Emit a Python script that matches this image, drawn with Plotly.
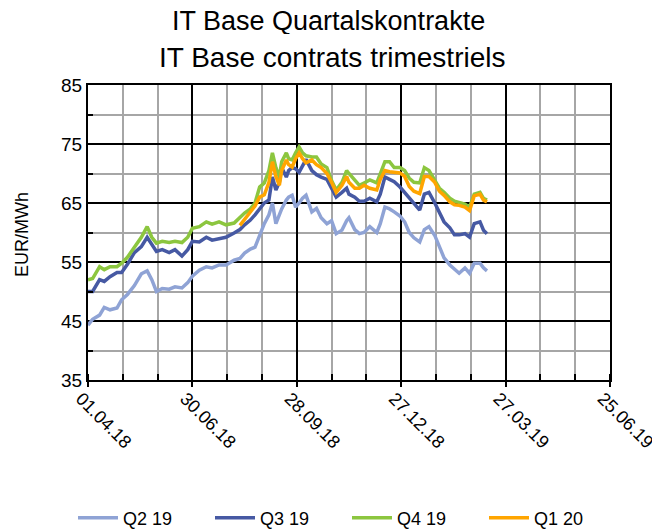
import plotly.graph_objects as go

dates = ["2018-04-01","2018-04-05","2018-04-11","2018-04-15","2018-04-20","2018-04-26","2018-04-30",
         "2018-05-05","2018-05-11","2018-05-17","2018-05-22","2018-05-26","2018-05-30","2018-06-04",
         "2018-06-10","2018-06-15","2018-06-21","2018-06-26","2018-06-30","2018-07-06","2018-07-12",
         "2018-07-17","2018-07-23","2018-07-29","2018-08-05","2018-08-10","2018-08-14","2018-08-19",
         "2018-08-23","2018-08-27","2018-08-31","2018-09-04","2018-09-07","2018-09-10","2018-09-13",
         "2018-09-15","2018-09-19","2018-09-21","2018-09-24","2018-09-27","2018-09-30","2018-10-03",
         "2018-10-06","2018-10-11","2018-10-15","2018-10-19","2018-10-24","2018-10-28","2018-11-01",
         "2018-11-06","2018-11-10","2018-11-12","2018-11-17","2018-11-21","2018-11-25","2018-11-30",
         "2018-12-06","2018-12-09","2018-12-13","2018-12-17","2018-12-21","2018-12-26","2018-12-30",
         "2019-01-03","2019-01-07","2019-01-12","2019-01-16","2019-01-20","2019-01-25","2019-01-29",
         "2019-02-02","2019-02-07","2019-02-11","2019-02-15","2019-02-20","2019-02-24","2019-02-28",
         "2019-03-05","2019-03-08","2019-03-11"]

q2_19 = [44.3,45.3,46.0,47.3,46.9,47.2,48.6,49.5,51.0,53.0,53.5,52.0,50.0,50.5,50.4,50.8,50.6,51.5,52.6,
         53.6,54.2,54.0,54.5,54.5,55.3,55.6,56.5,57.2,57.5,59.5,61.5,63.0,65.0,61.5,63.2,64.0,65.5,66.0,
         66.3,64.3,65.0,65.8,66.3,63.5,64.1,62.5,61.5,62.0,59.8,60.4,62.0,62.5,60.5,59.8,60.0,61.0,60.0,
         61.5,64.3,64.0,63.5,62.8,61.8,60.0,59.1,58.4,60.5,61.0,59.5,57.5,55.7,54.5,53.8,53.1,54.0,53.1,
         54.8,54.8,54.0,53.5]

q3_19 = [50.0,50.0,52.0,51.7,52.5,53.2,53.2,54.6,56.6,57.6,59.2,57.9,56.8,57.1,56.6,57.1,56.0,57.1,58.5,
         58.4,59.2,58.7,59.0,59.2,59.9,60.5,61.3,62.1,63.0,64.0,65.0,65.5,69.4,67.2,68.5,71.0,69.4,70.5,
         71.0,70.8,70.2,71.3,72.4,70.5,69.8,69.4,69.0,67.5,66.0,66.8,67.5,66.5,66.0,65.3,65.3,65.8,65.2,
         66.5,69.4,69.0,68.6,67.7,66.8,65.8,64.8,63.8,66.5,66.8,65.0,63.5,61.8,60.8,59.6,59.6,59.8,59.2,
         61.5,61.8,60.4,59.8]

q4_19 = [52.0,52.2,54.2,53.7,54.2,54.2,54.8,55.8,57.5,59.2,61.0,59.2,58.2,58.5,58.3,58.5,58.3,59.2,60.7,
         61.0,61.8,61.4,61.8,61.3,61.6,62.6,63.3,64.0,65.0,67.7,68.4,70.5,73.5,71.0,69.4,72.0,73.5,72.5,
         72.3,73.5,74.5,73.5,73.0,72.8,72.8,71.6,71.0,68.8,67.2,68.5,70.5,70.0,68.8,68.0,68.4,68.9,68.4,
         70.0,72.0,72.0,71.0,71.0,70.5,69.2,68.5,68.4,71.0,70.5,68.8,67.5,66.8,65.8,65.3,65.1,64.8,64.3,
         66.5,66.8,65.8,65.5]

q1_20_start = 25  # Q1 20 quotes begin on dates[25]
q1_20 = [61.2,62.2,63.6,64.5,66.0,66.4,68.5,72.0,69.5,68.0,70.5,72.3,71.5,71.1,72.5,73.5,72.5,71.8,
         72.3,71.5,71.0,70.0,68.5,66.8,68.0,69.5,68.5,67.5,67.5,68.0,67.5,67.2,69.0,70.5,70.3,70.2,70.1,
         69.5,67.8,67.0,66.6,69.5,69.5,68.5,67.0,66.3,65.2,64.7,64.6,64.3,63.7,66.2,66.5,65.5,65.2]

series = [
    ("Q2 19", dates, q2_19, "#8FA3D5"),
    ("Q3 19", dates, q3_19, "#4659A3"),
    ("Q4 19", dates, q4_19, "#8CC63F"),
    ("Q1 20", dates[q1_20_start:], q1_20, "#FFA500"),
]

FONT = "Liberation Sans, Arial, sans-serif"
OFF = 8  # page body margin of the browser
W, H = 660 - OFF, 530 - OFF
L, T = 88 - OFF, 85 - OFF
R = W - (610 - OFF)
B = H - (380 - OFF)
PW, PH = W - L - R, H - T - B

def px_x(p):  # window pixel -> paper x
    return (p - OFF - L) / PW

def px_y(p):  # window pixel -> paper y
    return 1 + (T - (p - OFF)) / PH

fig = go.Figure()
for name, x, y, c in series:
    fig.add_trace(go.Scatter(x=x, y=y, name=name, mode="lines",
                             line=dict(color=c, width=3.5)))

DAY = 86400000
fig.update_layout(
    width=W, height=H,
    margin=dict(l=L, r=R, t=T, b=B, autoexpand=False),
    paper_bgcolor="white", plot_bgcolor="white",
    font=dict(family=FONT, color="black"),
    showlegend=True,
    legend=dict(orientation="h", x=px_x(73), xanchor="left", y=px_y(518), yanchor="middle",
                font=dict(size=18, family=FONT), entrywidth=82, entrywidthmode="pixels",
                itemwidth=40, tracegroupgap=0),
    annotations=[
        dict(text="IT Base Quartalskontrakte", x=px_x(328), y=px_y(21), xref="paper", yref="paper",
             xanchor="center", yanchor="middle", height=26, valign="middle",
             showarrow=False, font=dict(size=27, family=FONT)),
        dict(text="IT Base contrats trimestriels", x=px_x(332), y=px_y(58), xref="paper", yref="paper",
             xanchor="center", yanchor="middle", showarrow=False, font=dict(size=28, family=FONT)),
        dict(text="EUR/MWh", x=px_x(22), y=px_y(235), xref="paper", yref="paper",
             xanchor="center", yanchor="middle",
             textangle=-90, showarrow=False, font=dict(size=18, family=FONT)),
    ],
)

fig.update_xaxes(
    type="date", range=["2018-04-01", "2019-06-25 02:00"], automargin=False,
    tick0="2018-04-01", dtick=90 * DAY, tickformat="%d.%m.%y", tickangle=45,
    tickfont=dict(size=18, family=FONT), ticklabelstandoff=-6, ticklabelshift=-7,
    ticklabeloverflow="allow",
    showgrid=True, gridcolor="black", gridwidth=2,
    ticks="outside", ticklen=5, tickwidth=2, tickcolor="black",
    minor=dict(dtick=30 * DAY, tick0="2018-04-01", showgrid=True, gridcolor="#A6A6A6",
               gridwidth=2, ticks="inside", ticklen=6, tickwidth=2, tickcolor="black"),
    showline=True, linecolor="black", linewidth=2, mirror=True, zeroline=False,
)
fig.update_yaxes(
    range=[35, 85], tick0=35, dtick=10, automargin=False,
    tickfont=dict(size=19, family=FONT),
    showgrid=True, gridcolor="black", gridwidth=2, ticks="",
    minor=dict(dtick=5, tick0=35, showgrid=True, gridcolor="#A6A6A6", gridwidth=2,
               ticks="inside", ticklen=5, tickwidth=2, tickcolor="black"),
    showline=True, linecolor="black", linewidth=2, mirror=True, zeroline=False,
)

fig.write_html("out.html")
